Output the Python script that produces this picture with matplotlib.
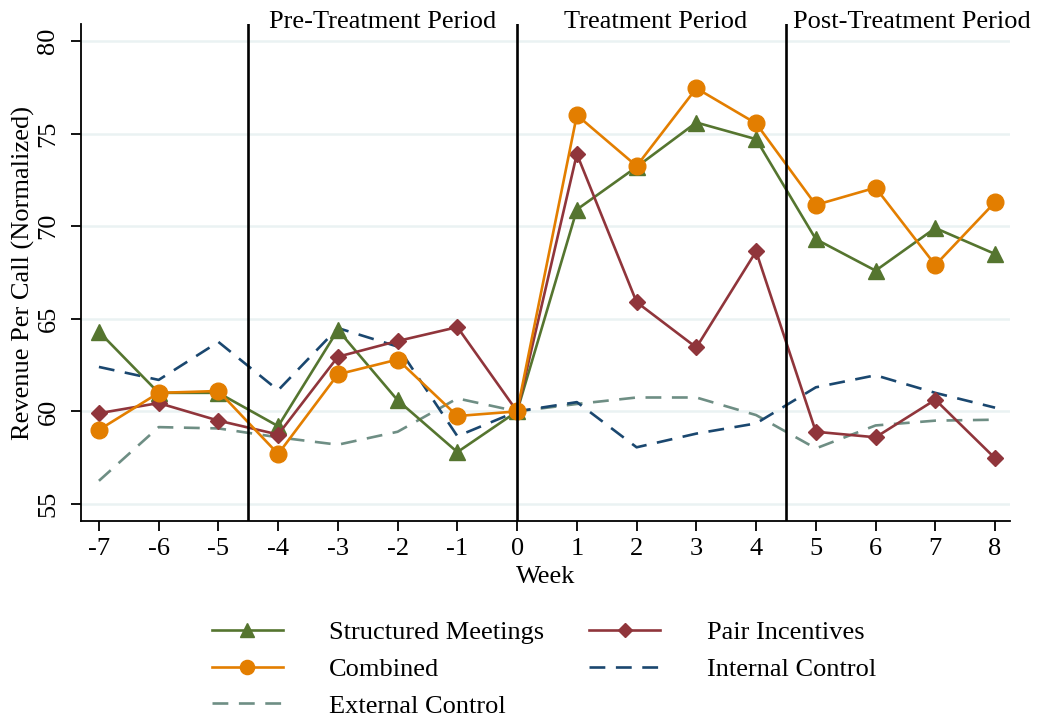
import matplotlib
matplotlib.use("Agg")
import matplotlib.pyplot as plt

plt.rcParams['font.family'] = ['Liberation Serif', 'DejaVu Serif']

weeks = list(range(-7, 9))
structured = [64.3, 61.0, 61.0, 59.2, 64.4, 60.6, 57.8, 60.0, 70.9, 73.2, 75.6, 74.7, 69.3, 67.6, 69.9, 68.5]
combined = [59.0, 61.0, 61.1, 57.7, 62.0, 62.8, 59.75, 60.0, 76.0, 73.25, 77.45, 75.55, 71.15, 72.08, 67.9, 71.3]
pair = [59.9, 60.45, 59.5, 58.75, 62.95, 63.8, 64.55, 60.0, 73.9, 65.9, 63.45, 68.64, 58.9, 58.6, 60.63, 57.47]
internal = [62.4, 61.7, 63.75, 61.14, 64.5, 63.5, 58.66, 60.0, 60.5, 58.06, 58.8, 59.35, 61.3, 61.95, 61.0, 60.2]
external = [56.25, 59.15, 59.08, 58.6, 58.2, 58.9, 60.7, 60.0, 60.4, 60.75, 60.75, 59.8, 58.0, 59.24, 59.5, 59.55]

yticks = [55, 60, 65, 70, 75, 80]
period_lines = [-4.5, 0, 4.5]
period_labels = ["Pre-Treatment Period", "Treatment Period", "Post-Treatment Period"]
period_label_x = [-2.25, 2.31, 6.61]

c_green = "#55752f"
c_orange = "#e37e00"
c_maroon = "#90353b"
c_navy = "#1a476f"
c_teal = "#6e8e84"

FS = 19

fig = plt.figure(figsize=(10.37, 7.19), dpi=100)
ax = fig.add_axes([81/1037, 1-521/719, 929/1037, 497/719])

lw = 1.9
for y in yticks:
    ax.axhline(y, color="#eaf2f3", lw=1.8, zorder=0)

ax.plot(weeks, structured, color=c_green, lw=lw, marker="^", ms=12, label="Structured Meetings", zorder=3)
ax.plot(weeks, combined, color=c_orange, lw=lw, marker="o", ms=12, label="Combined", zorder=4)
l_ext, = ax.plot(weeks, external, color=c_teal, lw=lw, label="External Control", zorder=2)
l_ext.set_dashes((6, 4))
ax.plot(weeks, pair, color=c_maroon, lw=lw, marker="D", ms=8, label="Pair Incentives", zorder=3)
l_int, = ax.plot(weeks, internal, color=c_navy, lw=lw, label="Internal Control", zorder=2)
l_int.set_dashes((6, 4))

for xv in period_lines:
    ax.axvline(xv, color="black", lw=1.9, zorder=5)

for xt, txt in zip(period_label_x, period_labels):
    ax.text(xt, 80.72, txt, ha="center", va="baseline", fontsize=FS, clip_on=False)

ax.set_xlim(-7.3, 8.25)
ax.set_ylim(54.08, 80.92)
ax.set_xticks(weeks)
ax.set_xticklabels([str(w) for w in weeks])
ax.set_yticks(yticks)
ax.set_yticklabels([str(y) for y in yticks], rotation=90, va="center")
ax.tick_params(axis="both", labelsize=FS, length=7.5, width=1.3, direction="out")
ax.tick_params(axis="x", pad=5)
ax.tick_params(axis="y", pad=8)
for s in ["top", "right"]:
    ax.spines[s].set_visible(False)
for s in ["left", "bottom"]:
    ax.spines[s].set_linewidth(1.3)
ax.set_xlabel("Week", fontsize=FS, labelpad=4)
ax.set_ylabel("Revenue Per Call (Normalized)", fontsize=FS, labelpad=2)

handles, labels = ax.get_legend_handles_labels()
leg = fig.legend(handles, labels, ncol=2, loc="upper left", bbox_to_anchor=(188/1037, 1-597/719),
                 frameon=False, fontsize=FS, handlelength=2.7, columnspacing=1.7,
                 labelspacing=0.5, handletextpad=1.75, markerscale=0.85)

fig.savefig("out.png", dpi=100)
